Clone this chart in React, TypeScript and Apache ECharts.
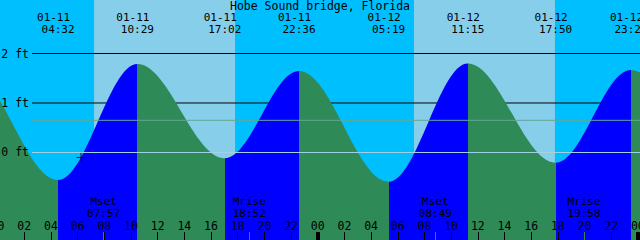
import React, { useEffect, useRef } from 'react';
import * as echarts from 'echarts';

// ---------- data ----------
const TITLE = 'Hobe Sound bridge, Florida';
const START_DAY = 11; // 01-11 00:00 is hour 0

// tide extremes (first / last are off-chart and only shape the curve ends)
const TIDE_STAMPS = [
  '01-10 16:15', '01-10 21:57',
  '01-11 04:32', '01-11 10:29', '01-11 17:02', '01-11 22:36',
  '01-12 05:19', '01-12 11:15', '01-12 17:50', '01-12 23:29',
  '01-13 06:05',
];
const TIDE_FT = [-0.05, 1.6, -0.556, 1.788, -0.117, 1.646, -0.59, 1.8, -0.206, 1.667, -0.6];

const SUNRISE = ['01-11 07:14', '01-12 07:13'];
const SUNSET = ['01-11 17:48', '01-12 17:47'];

const MOON_EVENTS = ['Mset', 'Mrise', 'Mset', 'Mrise'];
const MOON_STAMPS = ['01-11 07:57', '01-11 18:52', '01-12 08:49', '01-12 19:58'];

const NOW_STAMP = '01-11 06:15';
const NOW_FT = -0.1;

const FT_TICKS = [0, 1, 2];
const BLACK_LEVELS = [1, 2];
const MEAN_LEVEL = 0.65;
const DATUM_LEVEL = 0;

const HOUR_STEP = 2;
const DAY_STEP = 24;

// ---------- layout / style constants ----------
const X_MIN = 0;
const X_MAX = 48.16;
const Y_MIN = -1.768;
const Y_MAX = 3.081;
const FONT = "'DejaVu Sans Mono', 'Liberation Mono', monospace";
const NIGHT = '#00BFFF';
const DAY = '#87CEEB';
const RISING = '#0000FF';
const FALLING = '#2E8B57';

function toHours(stamp: string): number {
  const [md, hm] = stamp.split(' ');
  const day = Number(md.split('-')[1]);
  const [h, m] = hm.split(':').map(Number);
  return (day - START_DAY) * 24 + h + m / 60;
}

const pad2 = (n: number) => (n < 10 ? '0' : '') + n;

export default function App() {
  const ref = useRef<HTMLDivElement>(null);

  useEffect(() => {
    if (!ref.current) return;
    const chart = echarts.init(ref.current, undefined, { renderer: 'svg' });

    const tideData = TIDE_STAMPS.map((s, i) => [toHours(s), TIDE_FT[i]]);
    const pieces: any[] = [];
    for (let i = 0; i < tideData.length - 1; i++) {
      const a = tideData[i][0];
      const b = tideData[i + 1][0];
      const color = tideData[i + 1][1] > tideData[i][1] ? RISING : FALLING;
      pieces.push(i === tideData.length - 2 ? { gte: a, lte: b, color } : { gte: a, lt: b, color });
    }
    const labeled = tideData
      .map((d, i) => ({ t: d[0], i }))
      .filter((o) => o.t >= X_MIN && o.t <= X_MAX);
    const moonT = MOON_STAMPS.map(toHours);

    const baseText = { fontFamily: FONT, fontSize: 11.5, color: '#000' };
    const smallText = { fontFamily: FONT, fontSize: 11, color: '#000' };
    const commonX = {
      type: 'value',
      min: X_MIN,
      max: X_MAX,
      gridIndex: 0,
      splitLine: { show: false },
      axisLine: { show: false, onZero: false },
    };

    const levelSeries = (level: number, color: string, z: number) => ({
      type: 'line',
      xAxisIndex: 4,
      yAxisIndex: 1,
      z,
      symbol: 'none',
      silent: true,
      lineStyle: { color, width: 1 },
      data: [[0, level], [1, level]],
    });

    chart.setOption({
      animation: false,
      backgroundColor: NIGHT,
      title: {
        text: TITLE,
        left: 'center',
        top: 0,
        padding: 0,
        textStyle: { ...baseText, fontWeight: 'normal', lineHeight: 12 },
      },
      grid: [
        { left: -2.4, right: 0, top: 0, bottom: 0, containLabel: false, outerBoundsMode: 'none' },
        { left: 32, right: 0, top: 0, bottom: 0, containLabel: false, outerBoundsMode: 'none' },
      ],
      xAxis: [
        {
          ...commonX,
          position: 'bottom',
          interval: HOUR_STEP,
          z: 10,
          axisTick: { show: true, inside: true, length: 8, lineStyle: { color: '#000', width: 1 } },
          axisLabel: {
            show: true,
            inside: true,
            margin: 13.8,
            verticalAlign: 'middle',
            ...baseText,
            formatter: (v: number) => pad2(Math.round(v) % 24),
          },
        },
        {
          ...commonX,
          position: 'bottom',
          interval: DAY_STEP,
          z: 11,
          axisTick: { show: true, inside: true, length: 8, lineStyle: { color: '#000', width: 4 } },
          axisLabel: { show: false },
        },
        {
          ...commonX,
          position: 'bottom',
          z: 12,
          axisTick: { show: true, inside: true, length: 8, customValues: moonT, lineStyle: { color: FALLING, width: 1 } },
          axisLabel: {
            show: true,
            inside: true,
            margin: 32.3,
            verticalAlign: 'middle',
            customValues: moonT,
            ...smallText,
            lineHeight: 12,
            formatter: (v: number) => {
              const i = moonT.findIndex((t) => Math.abs(t - v) < 1e-6);
              return i < 0 ? '' : MOON_EVENTS[i] + '\n' + MOON_STAMPS[i].split(' ')[1];
            },
          },
        },
        {
          ...commonX,
          position: 'top',
          z: 10,
          axisTick: { show: false },
          axisLabel: {
            show: true,
            inside: true,
            margin: 23.4,
            verticalAlign: 'middle',
            customValues: labeled.map((o) => o.t),
            ...smallText,
            formatter: (v: number) => {
              const o = labeled.find((q) => Math.abs(q.t - v) < 1e-6);
              if (!o) return '';
              const [md, hm] = TIDE_STAMPS[o.i].split(' ');
              return '{d|' + md + '}\n{t|' + hm + '}';
            },
            rich: {
              d: { ...smallText, lineHeight: 12, padding: [0, 9, 0, 0] },
              t: { ...smallText, lineHeight: 12, padding: [0, 0, 0, 0] },
            },
          },
        },
        { type: 'value', gridIndex: 1, min: 0, max: 1, show: false, axisLine: { onZero: false } },
      ],
      yAxis: [
        { type: 'value', gridIndex: 0, min: Y_MIN, max: Y_MAX, show: false, axisLine: { onZero: false } },
        {
          type: 'value',
          gridIndex: 1,
          min: Y_MIN,
          max: Y_MAX,
          z: 10,
          axisLine: { show: false, onZero: false },
          axisTick: { show: false, customValues: FT_TICKS },
          splitLine: { show: false },
          axisLabel: {
            show: true,
            margin: 3,
            customValues: FT_TICKS,
            ...baseText,
            formatter: (v: number) => v + ' ft',
          },
        },
      ],
      visualMap: {
        type: 'piecewise',
        show: false,
        dimension: 0,
        seriesIndex: 0,
        pieces,
      },
      series: [
        {
          type: 'line',
          xAxisIndex: 0,
          yAxisIndex: 0,
          z: 3,
          data: tideData,
          smooth: 0.36,
          smoothMonotone: 'x',
          symbol: 'none',
          showSymbol: false,
          silent: true,
          clip: true,
          lineStyle: { width: 0 },
          areaStyle: { opacity: 1, origin: 'start' },
          markArea: {
            silent: true,
            label: { show: false },
            itemStyle: { color: DAY, opacity: 1, borderWidth: 0 },
            data: SUNRISE.map((r, i) => [{ xAxis: toHours(r) }, { xAxis: toHours(SUNSET[i]) }]),
          },
        },
        ...BLACK_LEVELS.map((l) => levelSeries(l, '#000', 2)),
        levelSeries(MEAN_LEVEL, '#62a796', 4),
        levelSeries(DATUM_LEVEL, '#a3d3e3', 4),
        {
          type: 'scatter',
          xAxisIndex: 0,
          yAxisIndex: 0,
          z: 5,
          silent: true,
          symbol: 'path://M0,5L10,5M5,0L5,10',
          symbolSize: 9,
          itemStyle: { color: 'none', borderColor: '#000', borderWidth: 1 },
          data: [[toHours(NOW_STAMP), NOW_FT]],
        },
      ],
    });

    return () => chart.dispose();
  }, []);

  return (
    <div
      ref={ref}
      style={{ position: 'fixed', left: 0, top: 0, width: 640, height: 240 }}
    />
  );
}
